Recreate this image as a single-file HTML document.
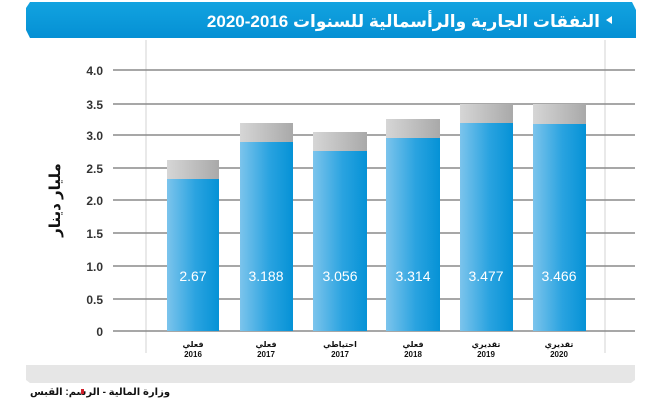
<!DOCTYPE html>
<html><head><meta charset="utf-8"><style>
html,body{margin:0;padding:0;background:#fff;width:658px;height:400px;overflow:hidden}
svg{display:block}
</style></head><body>
<svg width="658" height="400" viewBox="0 0 658 400" xmlns="http://www.w3.org/2000/svg" font-family="Liberation Sans, DejaVu Sans, sans-serif">
<defs>
<linearGradient id="b" x1="0" x2="1" y1="0" y2="0"><stop offset="0" stop-color="#7cc4ec"/><stop offset="0.55" stop-color="#2aa3e0"/><stop offset="1" stop-color="#0592d6"/></linearGradient>
<linearGradient id="g" x1="0" x2="1" y1="0" y2="0"><stop offset="0" stop-color="#d6d6d6"/><stop offset="1" stop-color="#a9a9a9"/></linearGradient>
<linearGradient id="h" x1="0" x2="0" y1="0" y2="1"><stop offset="0" stop-color="#12a3e0"/><stop offset="1" stop-color="#0590d4"/></linearGradient>
</defs>
<path d="M30 2 H632 L636 10 V38 H30 L26 30 V8 Z" fill="url(#h)"/>
<text x="600" y="27" text-anchor="end" fill="#fff" font-size="17" font-weight="bold" font-family="Liberation Sans, DejaVu Sans, sans-serif">النفقات الجارية والرأسمالية للسنوات 2016-2020</text>
<polygon points="612,16 612,24 606,20" fill="#fff"/>
<line x1="146" y1="40" x2="146" y2="353" stroke="#e2e2e2" stroke-width="1.5"/>
<line x1="605" y1="40" x2="605" y2="353" stroke="#e2e2e2" stroke-width="1.5"/>
<g stroke="#8a8a8a" stroke-width="1.5">
<line x1="113" y1="70" x2="635" y2="70"/><line x1="113" y1="104" x2="635" y2="104"/>
<line x1="113" y1="135" x2="635" y2="135"/><line x1="113" y1="168" x2="635" y2="168"/>
<line x1="113" y1="200" x2="635" y2="200"/><line x1="113" y1="233" x2="635" y2="233"/>
<line x1="113" y1="266" x2="635" y2="266"/><line x1="113" y1="299" x2="635" y2="299"/>
<line x1="113" y1="331" x2="635" y2="331"/>
</g>
<g font-size="12" font-weight="bold" fill="#333" text-anchor="end">
<text x="103" y="75">4.0</text><text x="103" y="109">3.5</text><text x="103" y="140">3.0</text>
<text x="103" y="173">2.5</text><text x="103" y="205">2.0</text><text x="103" y="238">1.5</text>
<text x="103" y="271">1.0</text><text x="103" y="304">0.5</text><text x="103" y="336">0</text>
</g>
<text transform="translate(60,200) rotate(-90)" text-anchor="middle" font-size="15" font-weight="bold" fill="#111">مليار دينار</text>
<g>
<rect x="167" y="160" width="52" height="171" fill="url(#g)"/><rect x="167" y="179" width="52" height="152" fill="url(#b)"/>
<rect x="240" y="123" width="53" height="208" fill="url(#g)"/><rect x="240" y="142" width="53" height="189" fill="url(#b)"/>
<rect x="313" y="132" width="54" height="199" fill="url(#g)"/><rect x="313" y="151" width="54" height="180" fill="url(#b)"/>
<rect x="386" y="119" width="54" height="212" fill="url(#g)"/><rect x="386" y="138" width="54" height="193" fill="url(#b)"/>
<rect x="460" y="104" width="53" height="227" fill="url(#g)"/><rect x="460" y="123" width="53" height="208" fill="url(#b)"/>
<rect x="533" y="104" width="53" height="227" fill="url(#g)"/><rect x="533" y="124" width="53" height="207" fill="url(#b)"/>
</g>
<g font-size="14" fill="#fff" text-anchor="middle" font-family="Liberation Sans Narrow, Liberation Sans, sans-serif">
<text x="193" y="281">2.67</text><text x="266" y="281">3.188</text><text x="340" y="281">3.056</text>
<text x="413" y="281">3.314</text><text x="486" y="281">3.477</text><text x="559" y="281">3.466</text>
</g>
<g font-size="8" font-weight="bold" fill="#111" text-anchor="middle">
<text x="193" y="347">فعلي</text><text x="193" y="357">2016</text>
<text x="266" y="347">فعلي</text><text x="266" y="357">2017</text>
<text x="340" y="347">احتياطي</text><text x="340" y="357">2017</text>
<text x="413" y="347">فعلي</text><text x="413" y="357">2018</text>
<text x="486" y="347">تقديري</text><text x="486" y="357">2019</text>
<text x="559" y="347">تقديري</text><text x="559" y="357">2020</text>
</g>
<path d="M26 365 H635 V380 L631 383 H30 L26 380 Z" fill="#e6e6e6"/>
<text x="30" y="395" font-size="10" font-weight="bold" fill="#111">وزارة المالية - الرسم: القبس</text>
<rect x="81" y="389" width="3" height="5" fill="#d0202a"/>
</svg>
</body></html>
